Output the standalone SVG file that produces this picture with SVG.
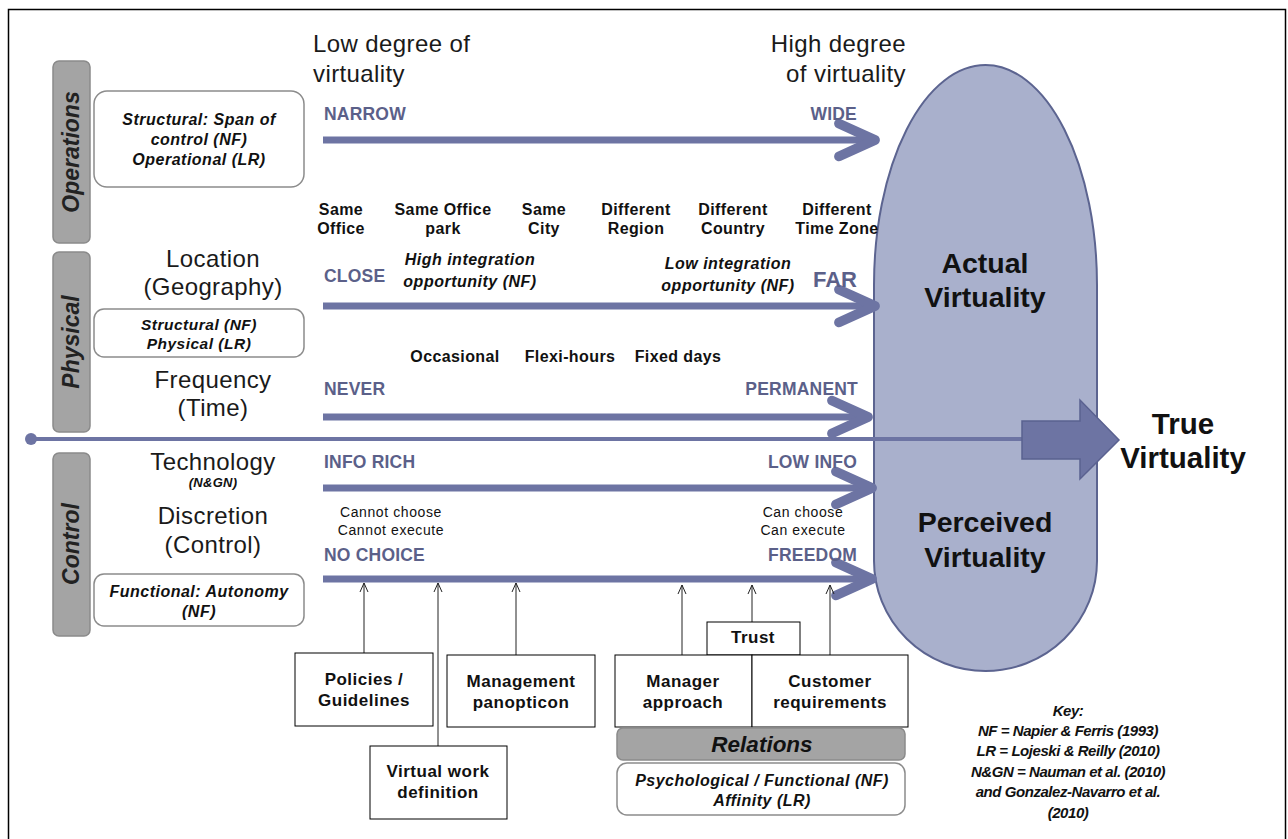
<svg xmlns="http://www.w3.org/2000/svg" width="1288" height="839" viewBox="0 0 1288 839">
  <style>
    text { font-family: "Liberation Sans", Arial, sans-serif; }
    .frame { fill: #ffffff; stroke: #000000; stroke-width: 1.5; }
    .bar { fill: #a4a4a4; stroke: #8a8a8a; stroke-width: 1.5; }
    .rbox { fill: #ffffff; stroke: #8c8c8c; stroke-width: 1.5; }
    .box { fill: #ffffff; stroke: #000000; stroke-width: 1; }
    .pill { fill: #a9b0cc; stroke: #5c6490; stroke-width: 2; }
    .axis { stroke: #6d74a3; stroke-width: 7; fill: none; }
    .ptr { stroke: #222222; stroke-width: 1; fill: none; }
    .bartxt { font-size: 23px; font-weight: bold; font-style: italic; fill: #222222; text-anchor: middle; }
    .big { font-size: 24px; letter-spacing: 0.4px; fill: #1a1a1a; }
    .mid { text-anchor: middle; }
    .end { text-anchor: end; }
    .lbl { font-size: 17.5px; letter-spacing: 0.2px; font-weight: bold; fill: #5b6089; }
    .loc { font-size: 16px; letter-spacing: 0.4px; font-weight: bold; fill: #111111; text-anchor: middle; }
    .it { font-size: 16px; letter-spacing: 0.5px; font-weight: bold; font-style: italic; fill: #111111; text-anchor: middle; }
    .sm { font-size: 14px; letter-spacing: 0.6px; fill: #111111; text-anchor: middle; }
    .bx { font-size: 17px; letter-spacing: 0.5px; font-weight: bold; fill: #111111; text-anchor: middle; }
    .pt { font-size: 28.5px; font-weight: bold; fill: #111111; text-anchor: middle; }
    .key { font-size: 15px; letter-spacing: -0.45px; font-weight: bold; font-style: italic; fill: #111111; text-anchor: middle; }
  </style>
  <defs>
    <marker id="chev" markerUnits="userSpaceOnUse" markerWidth="60" markerHeight="60" viewBox="-45 -25 55 50" refX="0" refY="0" orient="auto" overflow="visible">
      <polyline points="-33,-15 0,0 -33,15" fill="none" stroke="#6d74a3" stroke-width="9" stroke-linecap="round" stroke-linejoin="round"/>
    </marker>
    <marker id="vee" markerUnits="userSpaceOnUse" markerWidth="12" markerHeight="12" viewBox="-10 -6 12 12" refX="0" refY="0" orient="auto" overflow="visible">
      <polyline points="-9,-4 0,0 -9,4" fill="none" stroke="#222222" stroke-width="1"/>
    </marker>
  </defs>

  <rect class="frame" x="8.5" y="9.5" width="1277" height="840"/>

  <!-- side category bars -->
  <g id="bar-operations">
    <rect class="bar" x="53" y="61" width="37" height="182" rx="6"/>
    <text class="bartxt" transform="translate(79,152) rotate(-90)">Operations</text>
  </g>
  <g id="bar-physical">
    <rect class="bar" x="53" y="252" width="37" height="180" rx="6"/>
    <text class="bartxt" transform="translate(79,342) rotate(-90)">Physical</text>
  </g>
  <g id="bar-control">
    <rect class="bar" x="53" y="453" width="37" height="183" rx="6"/>
    <text class="bartxt" transform="translate(79,544) rotate(-90)">Control</text>
  </g>

  <!-- reference boxes -->
  <g id="ref-operations">
    <rect class="rbox" x="94" y="91" width="210" height="96" rx="13"/>
    <text class="it" x="199" y="125">Structural: Span of</text>
    <text class="it" x="199" y="145">control (NF)</text>
    <text class="it" x="199" y="165">Operational (LR)</text>
  </g>
  <g id="ref-physical">
    <rect class="rbox" x="94" y="309" width="210" height="48" rx="10"/>
    <text class="it" x="199" y="330" style="font-size:15.5px">Structural (NF)</text>
    <text class="it" x="199" y="349" style="font-size:15.5px">Physical (LR)</text>
  </g>
  <g id="ref-control">
    <rect class="rbox" x="94" y="574" width="210" height="52" rx="10"/>
    <text class="it" x="199" y="597">Functional: Autonomy</text>
    <text class="it" x="199" y="617">(NF)</text>
  </g>

  <!-- dimension names -->
  <g id="dim-location">
    <text class="big mid" x="213" y="267">Location</text>
    <text class="big mid" x="213" y="295">(Geography)</text>
  </g>
  <g id="dim-frequency">
    <text class="big mid" x="213" y="388">Frequency</text>
    <text class="big mid" x="213" y="416">(Time)</text>
  </g>
  <g id="dim-technology">
    <text class="big mid" x="213" y="470">Technology</text>
    <text class="it" x="213" y="487" style="font-size:13px;letter-spacing:0.3px">(N&amp;GN)</text>
  </g>
  <g id="dim-discretion">
    <text class="big mid" x="213" y="524">Discretion</text>
    <text class="big mid" x="213" y="553">(Control)</text>
  </g>

  <!-- scale headings -->
  <g id="heading-low">
    <text class="big" x="313" y="52">Low degree of</text>
    <text class="big" x="313" y="82">virtuality</text>
  </g>
  <g id="heading-high">
    <text class="big end" x="906" y="52">High  degree</text>
    <text class="big end" x="906" y="82">of virtuality</text>
  </g>

  <!-- virtuality outcome -->
  <g id="virtuality-pill">
    <path class="pill" d="M874,285 A111.5,220 0 0 1 1097,285 L1097,561 A111.5,110 0 0 1 874,561 Z"/>
    <text class="pt" x="985" y="273">Actual</text>
    <text class="pt" x="985" y="307">Virtuality</text>
    <text class="pt" x="985" y="532">Perceived</text>
    <text class="pt" x="985" y="567">Virtuality</text>
  </g>

  <g id="connectors">
    <!-- scales -->
    <line class="axis" x1="323" y1="140" x2="875" y2="140" marker-end="url(#chev)"/>
    <line class="axis" x1="323" y1="306" x2="875" y2="306" marker-end="url(#chev)"/>
    <line class="axis" x1="323" y1="417" x2="868" y2="417" marker-end="url(#chev)"/>
    <line class="axis" x1="323" y1="488" x2="872" y2="488" marker-end="url(#chev)"/>
    <line class="axis" x1="323" y1="579" x2="872" y2="579" marker-end="url(#chev)"/>
    <!-- main axis to true virtuality -->
    <line x1="30" y1="439" x2="1024" y2="439" stroke="#6d74a3" stroke-width="4"/>
    <circle cx="31" cy="439" r="6" fill="#6d74a3"/>
    <path d="M1022,421 L1080,421 L1080,400 L1119,440 L1080,479 L1080,459 L1022,459 Z" fill="#6d74a3" stroke="#5a6190" stroke-width="1.5"/>
    <!-- influences on discretion -->
    <line class="ptr" x1="364" y1="653" x2="364" y2="583" marker-end="url(#vee)"/>
    <line class="ptr" x1="438" y1="746" x2="438" y2="583" marker-end="url(#vee)"/>
    <line class="ptr" x1="516" y1="655" x2="516" y2="583" marker-end="url(#vee)"/>
    <line class="ptr" x1="682" y1="655" x2="682" y2="585" marker-end="url(#vee)"/>
    <line class="ptr" x1="752" y1="622" x2="752" y2="585" marker-end="url(#vee)"/>
    <line class="ptr" x1="830" y1="655" x2="830" y2="585" marker-end="url(#vee)"/>
  </g>

  <!-- scale end labels -->
  <g id="scale-labels">
    <text class="lbl" x="324" y="120">NARROW</text>
    <text class="lbl end" x="857" y="120">WIDE</text>
    <text class="lbl" x="324" y="282">CLOSE</text>
    <text class="lbl end" x="857" y="287" style="font-size:22px;letter-spacing:0">FAR</text>
    <text class="lbl" x="324" y="395">NEVER</text>
    <text class="lbl end" x="858" y="395">PERMANENT</text>
    <text class="lbl" x="324" y="468">INFO RICH</text>
    <text class="lbl end" x="857" y="468">LOW INFO</text>
    <text class="lbl" x="324" y="561">NO CHOICE</text>
    <text class="lbl end" x="857" y="561">FREEDOM</text>
  </g>

  <!-- location steps -->
  <g id="location-steps">
    <text class="loc" x="341" y="215">Same</text>
    <text class="loc" x="341" y="234">Office</text>
    <text class="loc" x="443" y="215">Same Office</text>
    <text class="loc" x="443" y="234">park</text>
    <text class="loc" x="544" y="215">Same</text>
    <text class="loc" x="544" y="234">City</text>
    <text class="loc" x="636" y="215">Different</text>
    <text class="loc" x="636" y="234">Region</text>
    <text class="loc" x="733" y="215">Different</text>
    <text class="loc" x="733" y="234">Country</text>
    <text class="loc" x="837" y="215">Different</text>
    <text class="loc" x="837" y="234">Time Zone</text>
  </g>
  <g id="integration-notes">
    <text class="it" x="470" y="265">High integration</text>
    <text class="it" x="470" y="287">opportunity (NF)</text>
    <text class="it" x="728" y="269">Low integration</text>
    <text class="it" x="728" y="291">opportunity (NF)</text>
  </g>
  <g id="frequency-steps">
    <text class="loc" x="455" y="362">Occasional</text>
    <text class="loc" x="570" y="362">Flexi-hours</text>
    <text class="loc" x="678" y="362">Fixed days</text>
  </g>
  <g id="discretion-notes">
    <text class="sm" x="391" y="517">Cannot choose</text>
    <text class="sm" x="391" y="535">Cannot execute</text>
    <text class="sm" x="803" y="517">Can choose</text>
    <text class="sm" x="803" y="535">Can execute</text>
  </g>

  <g id="true-virtuality">
    <text class="pt" x="1183" y="434" style="font-size:29.5px">True</text>
    <text class="pt" x="1183" y="468" style="font-size:29.5px">Virtuality</text>
  </g>

  <!-- influence boxes -->
  <g id="policies">
    <rect class="box" x="295" y="653" width="138" height="73"/>
    <text class="bx" x="364" y="685">Policies /</text>
    <text class="bx" x="364" y="706">Guidelines</text>
  </g>
  <g id="panopticon">
    <rect class="box" x="447" y="655" width="148" height="72"/>
    <text class="bx" x="521" y="687">Management</text>
    <text class="bx" x="521" y="708">panopticon</text>
  </g>
  <g id="virtual-work">
    <rect class="box" x="370" y="746" width="137" height="73"/>
    <text class="bx" x="438" y="777">Virtual work</text>
    <text class="bx" x="438" y="798">definition</text>
  </g>
  <g id="trust">
    <rect class="box" x="707" y="622" width="93" height="33"/>
    <text class="bx" x="753" y="643">Trust</text>
  </g>
  <g id="manager">
    <rect class="box" x="615" y="655" width="137" height="72"/>
    <text class="bx" x="683" y="687">Manager</text>
    <text class="bx" x="683" y="708">approach</text>
  </g>
  <g id="customer">
    <rect class="box" x="752" y="655" width="156" height="72"/>
    <text class="bx" x="830" y="687">Customer</text>
    <text class="bx" x="830" y="708">requirements</text>
  </g>
  <g id="relations">
    <rect class="bar" x="617" y="728" width="288" height="32" rx="6"/>
    <text x="762" y="752" style="font-size:22.5px;font-weight:bold;font-style:italic;fill:#111111;text-anchor:middle">Relations</text>
  </g>
  <g id="ref-relations">
    <rect class="rbox" x="617" y="763" width="288" height="52" rx="10"/>
    <text class="it" x="762" y="786">Psychological  / Functional (NF)</text>
    <text class="it" x="762" y="806">Affinity (LR)</text>
  </g>

  <g id="key">
    <text class="key" x="1068" y="716">Key:</text>
    <text class="key" x="1068" y="736">NF = Napier &amp; Ferris (1993)</text>
    <text class="key" x="1068" y="756">LR = Lojeski &amp; Reilly (2010)</text>
    <text class="key" x="1068" y="777">N&amp;GN = Nauman et al. (2010)</text>
    <text class="key" x="1068" y="797">and Gonzalez-Navarro et al.</text>
    <text class="key" x="1068" y="818">(2010)</text>
  </g>
</svg>
